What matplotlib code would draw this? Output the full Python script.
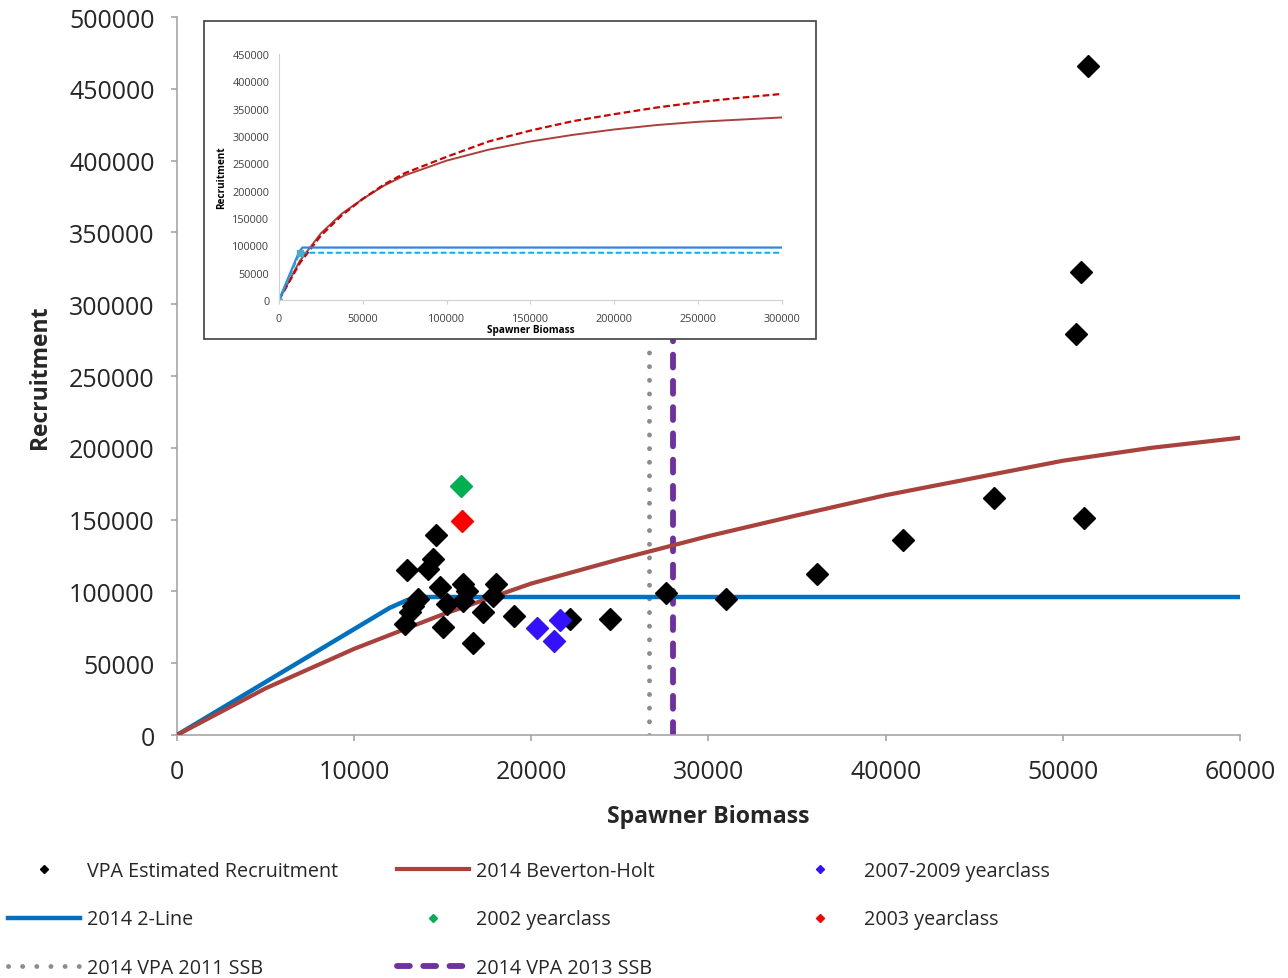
import matplotlib

matplotlib.use("Agg")
import matplotlib.pyplot as plt
from matplotlib.lines import Line2D
from matplotlib.patches import Rectangle

plt.rcParams["font.family"] = ["Open Sans", "DejaVu Sans"]

# --- data ------------------------------------------------------------------
vpa_ssb = [51410, 51020, 50730, 46110, 51190, 40970, 36120, 30980, 27600,
           24440, 22200, 19050, 18000, 17840, 17270, 16150, 16350, 16150,
           15220, 14840, 14600, 14450, 14170, 12990, 13610, 13330, 13150,
           12870, 15000, 16710]
vpa_rec = [465900, 322400, 279200, 165000, 151100, 135800, 112100, 94700,
           98900, 81000, 80800, 82900, 105100, 96800, 85700, 105100, 100300,
           93300, 91200, 103000, 139300, 122600, 115600, 115000, 94700, 89800,
           85700, 77300, 75200, 64000]

yc_0709_ssb = [20300, 21610, 21280]
yc_0709_rec = [74500, 80100, 65500]
yc_2002_ssb = [16030]
yc_2002_rec = [173400]
yc_2003_ssb = [16090]
yc_2003_rec = [149000]

bh_ssb = [0, 5000, 10000, 15000, 20000, 25000, 30000, 35000, 40000, 45000,
          50000, 55000, 60000]
bh_rec = [0, 32500, 60000, 84000, 105500, 122500, 138500, 153000, 167000,
          179000, 191000, 200000, 207000]

twoline_ssb = [0, 12000, 13000, 14000, 60000]
twoline_rec = [0, 88500, 94000, 96100, 96100]

ssb_2011 = 26640
ssb_2013 = 28000
ssb_line_top = 275000  # the SSB markers run up to the inset's lower edge

# inset (wide range)
in_ssb = [0, 12500, 25000, 37500, 50000, 62500, 75000, 100000, 125000,
          150000, 175000, 200000, 225000, 250000, 275000, 300000]
in_bh_2014 = [0, 72000, 122000, 158000, 185000, 209000, 228000, 255000,
              275000, 290000, 302000, 312000, 320000, 326000, 330000, 334000]
in_bh_2013 = [0, 68000, 118000, 155000, 185000, 211000, 232000, 262000,
              290000, 310000, 327000, 340000, 352000, 362000, 370000, 377000]
in_2l_2014_ssb = [0, 12000, 14000, 300000]
in_2l_2014_rec = [0, 88000, 96000, 96000]
in_2l_2013_ssb = [0, 12500, 300000]
in_2l_2013_rec = [0, 86500, 86500]

# --- colours ---------------------------------------------------------------
BLUE = "#0070C0"
BROWN = "#A9413C"
PURPLE = "#7030A0"
GREY = "#8C8C8C"
AXIS = "#A6A6A6"
TXT = "#262626"

fig = plt.figure(figsize=(12.88, 9.79), dpi=100)
ax = fig.add_axes([0.1374, 0.2482, 0.8253, 0.7334])

ax.plot(twoline_ssb, twoline_rec, color=BLUE, lw=3.2, solid_capstyle="round", zorder=3)
ax.plot(bh_ssb, bh_rec, color=BROWN, lw=3.0, zorder=3)
ax.plot([ssb_2011, ssb_2011], [0, ssb_line_top], color=GREY, lw=3.5,
        ls=(0, (0.01, 2.8)), dash_capstyle="round", zorder=2)
ax.plot([ssb_2013, ssb_2013], [0, ssb_line_top], color=PURPLE, lw=4.2,
        ls=(0, (2.2, 2.3)), dash_capstyle="round", zorder=2)
ax.plot(vpa_ssb, vpa_rec, ls="none", marker="D", ms=11, color="black", zorder=4)
ax.plot(yc_0709_ssb, yc_0709_rec, ls="none", marker="D", ms=11, color="#3311FF", zorder=4)
ax.plot(yc_2002_ssb, yc_2002_rec, ls="none", marker="D", ms=11, color="#00B050", zorder=4)
ax.plot(yc_2003_ssb, yc_2003_rec, ls="none", marker="D", ms=11, color="#FF0000", zorder=4)

ax.set_xlim(0, 60000)
ax.set_ylim(0, 500000)
ax.set_xticks(range(0, 60001, 10000))
ax.set_yticks(range(0, 500001, 50000))
for s in ("top", "right"):
    ax.spines[s].set_visible(False)
for s in ("left", "bottom"):
    ax.spines[s].set_color(AXIS)
    ax.spines[s].set_linewidth(1.2)
ax.tick_params(axis="both", colors=AXIS, labelcolor=TXT, labelsize=18,
               length=4, width=1.2)
ax.tick_params(axis="x", pad=13)
ax.tick_params(axis="y", pad=12)
ax.set_xlabel("Spawner Biomass", fontsize=16.7, fontweight="bold", color=TXT, labelpad=15)
ax.set_ylabel("Recruitment", fontsize=16.5, fontweight="bold", color=TXT, labelpad=12)

# --- inset -------------------------------------------------------------------
frame = Rectangle((0.1584, 0.6527), 0.4751, 0.3248, transform=fig.transFigure,
                  facecolor="white", edgecolor="#404040", lw=1.2, zorder=5)
fig.patches.append(frame)

ins = fig.add_axes([0.2166, 0.6925, 0.3905, 0.2513], zorder=6)
ins.patch.set_alpha(0)
ins.plot(in_ssb, in_bh_2014, color=BROWN, lw=1.4)
ins.plot(in_ssb, in_bh_2013, color="#D00000", lw=1.6, ls=(0, (3, 1.5)))
ins.plot(in_2l_2014_ssb, in_2l_2014_rec, color="#2E86DE", lw=1.6)
ins.plot(in_2l_2013_ssb, in_2l_2013_rec, color="#00B0F0", lw=1.4, ls=(0, (3, 1.5)))
ins.plot([0], [0], marker="o", ms=4, color="#4BACC6", ls="none")
ins.plot([12500], [86500], marker="s", ms=4, color="#4BACC6", ls="none")
ins.set_xlim(0, 300000)
ins.set_ylim(0, 450000)
ins.set_xticks(range(0, 300001, 50000))
ins.set_yticks(range(0, 450001, 50000))
for s in ("top", "right"):
    ins.spines[s].set_visible(False)
for s in ("left", "bottom"):
    ins.spines[s].set_color("#D0D0D0")
ins.tick_params(axis="both", colors="#D0D0D0", labelcolor="#404040", labelsize=7.8)
ins.tick_params(axis="x", length=3, pad=6)
ins.tick_params(axis="y", length=0, pad=7)
ins.set_xlabel("Spawner Biomass", fontsize=7.2, fontweight="bold", labelpad=0)
ins.set_ylabel("Recruitment", fontsize=7.2, fontweight="bold", labelpad=4)

# --- legend (three columns, like the spreadsheet original) ------------------
def diamond(color):
    return Line2D([], [], ls="none", marker="D", ms=4.5, color=color)

columns = [
    ([diamond("black"), Line2D([], [], color=BLUE, lw=3.2),
      Line2D([], [], color=GREY, lw=3.5, ls=(0, (0.01, 2.9)), dash_capstyle="round")],
     ["VPA Estimated Recruitment", "2014 2-Line", "2014 VPA 2011 SSB"], 0.0062),
    ([Line2D([], [], color=BROWN, lw=3.0), diamond("#00B050"),
      Line2D([], [], color=PURPLE, lw=4.2, ls=(0, (2.2, 2.3)), dash_capstyle="round")],
     ["2014 Beverton-Holt", "2002 yearclass", "2014 VPA 2013 SSB"], 0.308),
    ([diamond("#3311FF"), diamond("#FF0000")],
     ["2007-2009 yearclass", "2003 yearclass"], 0.609),
]
for handles, labels, x0 in columns:
    fig.legend(handles, labels, loc="upper left", bbox_to_anchor=(x0, 0.1195),
               frameon=False, fontsize=14.2, handlelength=3.65, handletextpad=0.38,
               labelspacing=1.44, borderpad=0, borderaxespad=0, labelcolor=TXT)

fig.savefig("out.png", dpi=100)
